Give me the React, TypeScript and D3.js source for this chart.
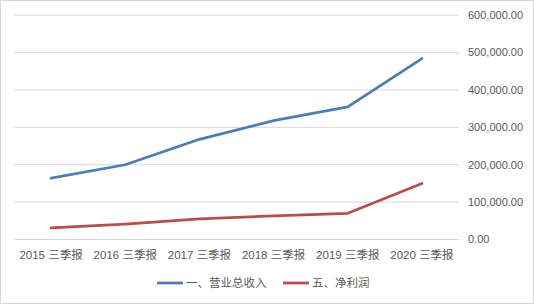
import React from "react";
import * as d3 from "d3";

const categories = ["2015 三季报", "2016 三季报", "2017 三季报", "2018 三季报", "2019 三季报", "2020 三季报"];
const revenue = [164000, 200000, 268000, 318000, 355000, 484000];
const netProfit = [31000, 41000, 55000, 63000, 70000, 150000];
const yTicks = [0, 100000, 200000, 300000, 400000, 500000, 600000];
const seriesNames = ["一、营业总收入", "五、净利润"];
const colors = ["#4a7ebb", "#be4b48"];

const W = 534;
const H = 304;

export default function App() {
  const x = d3.scaleBand<string>().domain(categories).range([14, 459]);
  const y = d3.scaleLinear().domain([0, 600000]).range([239.5, 15.2]);
  const cx = (c: string) => (x(c) as number) + x.bandwidth() / 2;
  const line = d3
    .line<number>()
    .x((_, i) => cx(categories[i]))
    .y((d) => y(d));
  const fmt = d3.format(",.2f");
  const series = [revenue, netProfit];
  const legendX = [157, 283];

  return (
    <svg
      width={W}
      height={H}
      style={{ position: "absolute", left: 0, top: 0, background: "#fff" }}
    >
      <rect x={0.5} y={0.5} width={W - 1} height={H - 1} fill="#fff" stroke="#d9d9d9" />
      {yTicks.map((t) => (
        <g key={t}>
          <line x1={14} x2={459} y1={y(t)} y2={y(t)} stroke="#d9d9d9" strokeWidth={1} />
          <text
            x={468}
            y={y(t)}
            dy="0.35em"
            fontFamily="Liberation Sans, Arial, sans-serif"
            fontSize={11}
            fill="#595959"
          >
            {fmt(t)}
          </text>
        </g>
      ))}
      {categories.map((c) => (
        <text
          key={c}
          x={cx(c)}
          y={259}
          textAnchor="middle"
          fontFamily="Liberation Sans, 'Noto Sans CJK SC', sans-serif"
          fontSize={11.5}
          fill="#595959"
        >
          {c}
        </text>
      ))}
      {series.map((s, i) => (
        <path
          key={i}
          d={line(s) || ""}
          fill="none"
          stroke={colors[i]}
          strokeWidth={2.75}
          strokeLinejoin="round"
          strokeLinecap="round"
        />
      ))}
      {seriesNames.map((n, i) => (
        <g key={n}>
          <line
            x1={legendX[i]}
            x2={legendX[i] + 26}
            y1={283}
            y2={283}
            stroke={colors[i]}
            strokeWidth={2.75}
          />
          <text
            x={legendX[i] + 29}
            y={283}
            dy="0.35em"
            fontFamily="'Noto Sans CJK SC', sans-serif"
            fontSize={11.5}
            fill="#595959"
          >
            {n}
          </text>
        </g>
      ))}
    </svg>
  );
}
